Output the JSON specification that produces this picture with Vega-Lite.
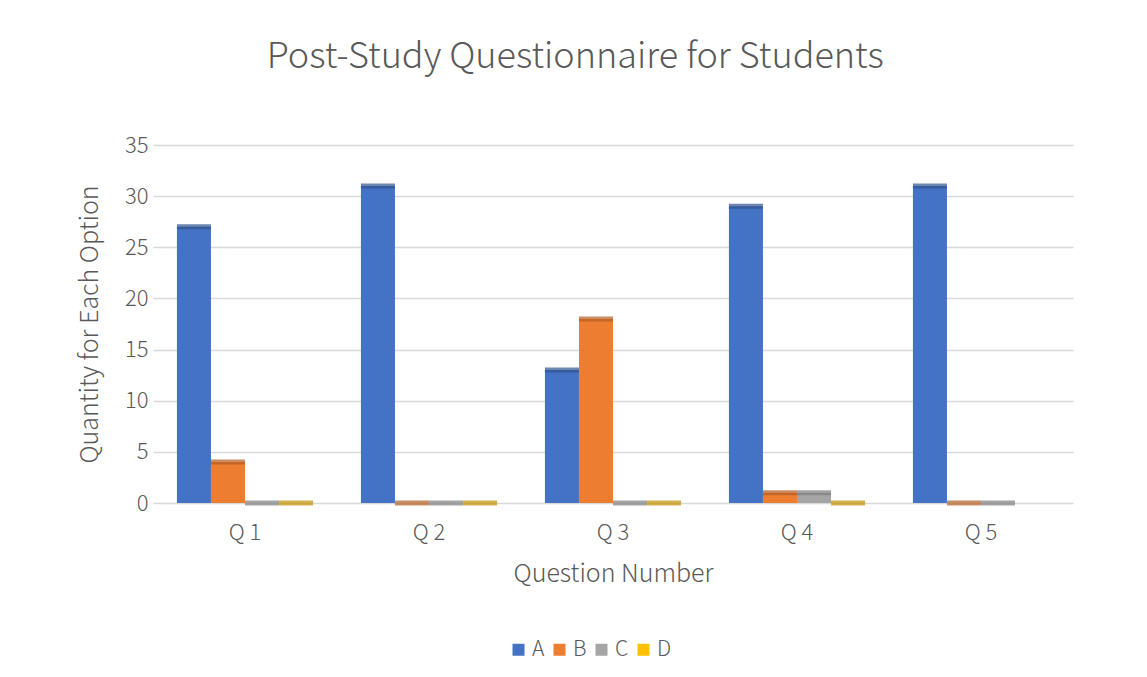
{
  "$schema": "https://vega.github.io/schema/vega-lite/v6.json",
  "width": 920,
  "height": 358,
  "autosize": {"type": "none"},
  "padding": {"left": 153, "top": 145, "right": 74, "bottom": 174},
  "background": "white",
  "title": {"text": "Post-Study Questionnaire for Students", "fontSize": 36, "fontWeight": 300, "color": "#595959", "font": "Noto Sans CJK SC", "anchor": "middle", "frame": "bounds", "offset": 58},
  "data": {"values": [
    {"q": "Q 1", "opt": "A", "v": 27}, {"q": "Q 1", "opt": "B", "v": 4}, {"q": "Q 1", "opt": "C", "v": 0}, {"q": "Q 1", "opt": "D", "v": 0},
    {"q": "Q 2", "opt": "A", "v": 31}, {"q": "Q 2", "opt": "B", "v": 0}, {"q": "Q 2", "opt": "C", "v": 0}, {"q": "Q 2", "opt": "D", "v": 0},
    {"q": "Q 3", "opt": "A", "v": 13}, {"q": "Q 3", "opt": "B", "v": 18}, {"q": "Q 3", "opt": "C", "v": 0}, {"q": "Q 3", "opt": "D", "v": 0},
    {"q": "Q 4", "opt": "A", "v": 29}, {"q": "Q 4", "opt": "B", "v": 1}, {"q": "Q 4", "opt": "C", "v": 1}, {"q": "Q 4", "opt": "D", "v": 0},
    {"q": "Q 5", "opt": "A", "v": 31}, {"q": "Q 5", "opt": "B", "v": 0}, {"q": "Q 5", "opt": "C", "v": 0}
  ]},
  "encoding": {
    "x": {"field": "q", "type": "nominal", "scale": {"paddingInner": 0.26, "paddingOuter": 0.13},
      "axis": {"title": "Question Number", "labelAngle": 0, "labelFontSize": 22, "labelFontWeight": 300, "labelColor": "#595959", "labelFont": "Noto Sans CJK SC", "labelPadding": 19, "ticks": false, "domain": false, "titleFontSize": 25, "titleFontWeight": 300, "titleColor": "#595959", "titleFont": "Noto Sans CJK SC", "titlePadding": 18}},
    "xOffset": {"field": "opt", "type": "nominal", "scale": {"paddingInner": 0, "paddingOuter": 0}},
    "y": {"field": "v", "type": "quantitative", "scale": {"domain": [0, 35]},
      "axis": {"values": [0, 5, 10, 15, 20, 25, 30, 35], "title": "Quantity for Each Option", "labelFontSize": 22, "labelFontWeight": 300, "labelColor": "#595959", "labelFont": "Noto Sans CJK SC", "labelPadding": 5, "ticks": false, "domain": false, "gridColor": "#D9D9D9", "gridWidth": 1.5, "titleFontSize": 25, "titleFontWeight": 300, "titleColor": "#595959", "titleFont": "Noto Sans CJK SC", "titlePadding": 22}}
  },
  "layer": [
    {
      "mark": {"type": "bar"},
      "encoding": {
        "color": {"field": "opt", "type": "nominal", "scale": {"domain": ["A", "B", "C", "D"], "range": ["#4472C4", "#ED7D31", "#A5A5A5", "#FFC000"]},
          "legend": {"title": null, "orient": "none", "legendX": 355, "legendY": 494, "direction": "horizontal", "symbolType": "square", "symbolSize": 144, "symbolStrokeWidth": 0, "labelFontSize": 21, "labelFontWeight": 300, "labelColor": "#595959", "labelFont": "Noto Sans CJK SC", "columnPadding": 4, "labelOffset": 3}}
      }
    },
    {
      "mark": {"type": "tick", "size": 34, "thickness": 5},
      "encoding": {
        "color": {"field": "opt", "type": "nominal", "scale": {"domain": ["A", "B", "C", "D"], "range": ["#2F528F", "#B55D22", "#7F7F7F", "#C09000"]}, "legend": null}
      }
    }
  ],
  "resolve": {"scale": {"color": "independent"}},
  "config": {"view": {"stroke": null}}
}
